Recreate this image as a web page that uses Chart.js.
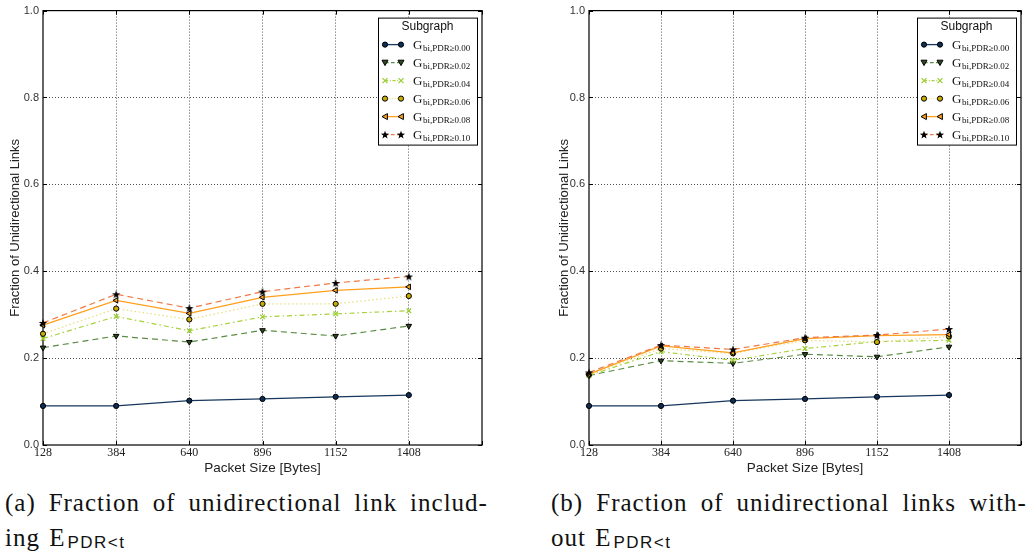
<!DOCTYPE html>
<html><head><meta charset="utf-8">
<script src="https://cdn.jsdelivr.net/npm/chart.js@4.4.1/dist/chart.umd.min.js"></script>
<style>
body{margin:0;width:1027px;height:556px;background:#fff;overflow:hidden;position:relative}
#wa{position:absolute;left:0;top:0;width:500px;height:480px}
#wb{position:absolute;left:520px;top:0;width:507px;height:480px}
.cap{position:absolute;font-family:"Liberation Serif",serif;font-size:25px;line-height:35px;color:#111;letter-spacing:1px}
.l1{display:flex;justify-content:space-between;white-space:nowrap}
.l2{white-space:nowrap;word-spacing:2px}
.sub{font-family:"Liberation Sans",sans-serif;font-size:17px;letter-spacing:1.5px;position:relative;top:2px;margin-left:2px}
</style>
</head><body>
<div id="wa"><canvas id="ca" width="500" height="480"></canvas></div>
<div id="wb"><canvas id="cb" width="507" height="480"></canvas></div>
<div class="cap" style="left:5px;top:485px;width:483px">
  <div class="l1"><span>(a)</span><span>Fraction</span><span>of</span><span>unidirectional</span><span>link</span><span>includ-</span></div>
  <div class="l2">ing E<span class="sub">PDR&lt;t</span></div>
</div>
<div class="cap" style="left:551px;top:485px;width:476px">
  <div class="l1"><span>(b)</span><span>Fraction</span><span>of</span><span>unidirectional</span><span>links</span><span>with-</span></div>
  <div class="l2">out E<span class="sub">PDR&lt;t</span></div>
</div>
<script>
// ---------- data ----------
const packetSizes = [128, 384, 640, 896, 1152, 1408];
const xTickValues = [128, 384, 640, 896, 1152, 1408, 1664];
const yTickValues = [0, 0.2, 0.4, 0.6, 0.8, 1.0];
const thresholds = ['0.00', '0.02', '0.04', '0.06', '0.08', '0.10'];

// panel (a): including E_PDR<t
const a000 = [0.090, 0.090, 0.102, 0.106, 0.111, 0.115];
const a002 = [0.224, 0.251, 0.237, 0.264, 0.251, 0.274];
const a004 = [0.245, 0.296, 0.263, 0.295, 0.302, 0.309];
const a006 = [0.256, 0.314, 0.289, 0.325, 0.325, 0.343];
const a008 = [0.276, 0.333, 0.303, 0.340, 0.356, 0.364];
const a010 = [0.281, 0.347, 0.315, 0.353, 0.373, 0.388];

// panel (b): without E_PDR<t
const b000 = [0.090, 0.090, 0.102, 0.106, 0.111, 0.115];
const b002 = [0.160, 0.194, 0.188, 0.209, 0.203, 0.226];
const b004 = [0.160, 0.215, 0.195, 0.222, 0.238, 0.241];
const b006 = [0.162, 0.222, 0.211, 0.241, 0.237, 0.250];
const b008 = [0.163, 0.228, 0.212, 0.245, 0.252, 0.254];
const b010 = [0.167, 0.230, 0.220, 0.247, 0.253, 0.267];

// ---------- styles ----------
const seriesStyle = [
  {line:'#17375e', dash:[],          marker:'circle', fill:'#0c2d55', stroke:'#000', width:1.3},
  {line:'#5b8c45', dash:[6,4],       marker:'tdown',  fill:'#2f4a1f', stroke:'#000', width:1.2},
  {line:'#a6d13a', dash:[5,3,1.5,3], marker:'x',      fill:'#9acd32', stroke:'#9acd32', width:1.2},
  {line:'#e8e08a', dash:[1.5,2.5],   marker:'circle', fill:'#c9ab00', stroke:'#000', width:1.3},
  {line:'#ff9f1c', dash:[],          marker:'tleft',  fill:'#f7a21b', stroke:'#000', width:1.3},
  {line:'#f07844', dash:[6,4],       marker:'star',   fill:'#000',    stroke:'#000', width:1.2}
];

function starPath(ctx, cx, cy, R, r) {
  ctx.beginPath();
  for (let i = 0; i < 10; i++) {
    const rad = i % 2 === 0 ? R : r;
    const a = -Math.PI / 2 + i * Math.PI / 5;
    const px = cx + rad * Math.cos(a), py = cy + rad * Math.sin(a);
    if (i === 0) ctx.moveTo(px, py); else ctx.lineTo(px, py);
  }
  ctx.closePath();
}
const starCanvas = document.createElement('canvas');
starCanvas.width = 10; starCanvas.height = 10;
(function(){ const c = starCanvas.getContext('2d'); c.fillStyle = '#000'; starPath(c, 5, 5.4, 4.4, 1.8); c.fill(); })();

function pointOpts(s) {
  switch (s.marker) {
    case 'circle': return {pointStyle:'circle', rotation:0, radius:2.6};
    case 'tdown': return {pointStyle:'triangle', rotation:180, radius:3.2};
    case 'tleft': return {pointStyle:'triangle', rotation:-90, radius:3.2};
    case 'x': return {pointStyle:'crossRot', rotation:0, radius:3.2};
    case 'star': return {pointStyle:starCanvas, rotation:0, radius:5};
  }
}

function drawMarker(ctx, s, x, y) {
  ctx.save();
  ctx.setLineDash([]);
  ctx.fillStyle = s.fill; ctx.strokeStyle = s.stroke; ctx.lineWidth = 1;
  const r = 3;
  if (s.marker === 'circle') { ctx.beginPath(); ctx.arc(x, y, 2.6, 0, Math.PI*2); ctx.fill(); ctx.stroke(); }
  else if (s.marker === 'tdown') { ctx.beginPath(); ctx.moveTo(x-r, y-r*0.8); ctx.lineTo(x+r, y-r*0.8); ctx.lineTo(x, y+r); ctx.closePath(); ctx.fill(); ctx.stroke(); }
  else if (s.marker === 'tleft') { ctx.beginPath(); ctx.moveTo(x+r*0.8, y-r); ctx.lineTo(x+r*0.8, y+r); ctx.lineTo(x-r, y); ctx.closePath(); ctx.fill(); ctx.stroke(); }
  else if (s.marker === 'x') { ctx.lineWidth = 1.2; ctx.beginPath(); ctx.moveTo(x-2.5,y-2.5); ctx.lineTo(x+2.5,y+2.5); ctx.moveTo(x+2.5,y-2.5); ctx.lineTo(x-2.5,y+2.5); ctx.stroke(); }
  else if (s.marker === 'star') { starPath(ctx, x, y+0.4, 4.3, 1.8); ctx.fillStyle = '#000'; ctx.fill(); }
  ctx.restore();
}

const framePlugin = {
  id: 'frame',
  beforeDatasetsDraw(chart) {
    const {ctx, chartArea: a} = chart;
    ctx.save();
    ctx.strokeStyle = '#000'; ctx.lineWidth = 1.2; ctx.setLineDash([]);
    ctx.strokeRect(a.left, a.top, a.right - a.left, a.bottom - a.top);
    ctx.lineWidth = 1;
    const ys = chart.scales.y, xs = chart.scales.x;
    yTickValues.forEach(v => {
      const py = Math.round(ys.getPixelForValue(v)) + 0.5;
      ctx.beginPath(); ctx.moveTo(a.left, py); ctx.lineTo(a.left + 4, py);
      ctx.moveTo(a.right, py); ctx.lineTo(a.right - 4, py); ctx.stroke();
    });
    xTickValues.forEach(v => {
      const px = Math.round(xs.getPixelForValue(v)) + 0.5;
      ctx.beginPath(); ctx.moveTo(px, a.bottom); ctx.lineTo(px, a.bottom - 4);
      ctx.moveTo(px, a.top); ctx.lineTo(px, a.top + 4); ctx.stroke();
    });
    ctx.restore();
  }
};

const legendPlugin = {
  id: 'subLegend',
  afterDraw(chart) {
    const {ctx, chartArea: a} = chart;
    const bx = a.right - 104, by = a.top + 7, bw = 99, bh = 127;
    ctx.save();
    ctx.fillStyle = '#fff'; ctx.fillRect(bx, by, bw, bh);
    ctx.strokeStyle = '#000'; ctx.lineWidth = 1; ctx.setLineDash([]);
    ctx.strokeRect(bx + 0.5, by + 0.5, bw, bh);
    ctx.fillStyle = '#111';
    ctx.font = '12px "Liberation Sans", Arial, sans-serif';
    ctx.textAlign = 'center'; ctx.textBaseline = 'middle';
    ctx.fillText('Subgraph', bx + bw/2, by + 9);
    seriesStyle.forEach((s, i) => {
      const y = by + 27 + i * 18;
      ctx.strokeStyle = s.line; ctx.lineWidth = 1.3; ctx.setLineDash(s.dash.map(d => d*0.6));
      ctx.beginPath(); ctx.moveTo(bx + 7, y); ctx.lineTo(bx + 23, y); ctx.stroke();
      drawMarker(ctx, s, bx + 7, y);
      drawMarker(ctx, s, bx + 23, y);
      ctx.fillStyle = '#111'; ctx.textAlign = 'left'; ctx.textBaseline = 'alphabetic';
      ctx.font = '13px "Liberation Serif", serif';
      ctx.fillText('G', bx + 35, y + 4);
      const gw = ctx.measureText('G').width;
      ctx.font = '9px "Liberation Serif", serif';
      ctx.fillText('bi,PDR\u2265' + thresholds[i], bx + 35 + gw + 0.5, y + 6);
    });
    ctx.restore();
  }
};

function makeChart(canvasId, seriesData, yAxisWidth, yTitlePad, rightPad) {
  const datasets = seriesData.map((vals, i) => {
    const s = seriesStyle[i], p = pointOpts(s);
    return {
      label: 'G bi,PDR\u2265' + thresholds[i],
      data: packetSizes.map((x, j) => ({x: x, y: vals[j]})),
      borderColor: s.line, borderWidth: s.width, borderDash: s.dash,
      backgroundColor: s.fill, pointBackgroundColor: s.fill, pointBorderColor: s.stroke,
      pointBorderWidth: s.marker === 'x' ? 1.3 : 1,
      pointStyle: p.pointStyle, pointRotation: p.rotation, pointRadius: p.radius, pointHoverRadius: p.radius,
      tension: 0, fill: false, order: 5 - i, clip: false
    };
  });
  return new Chart(document.getElementById(canvasId), {
    type: 'line',
    data: {datasets},
    plugins: [framePlugin, legendPlugin],
    options: {
      responsive: false, animation: false, devicePixelRatio: 1,
      layout: {padding: {top: 6, right: rightPad, bottom: 0, left: 0}},
      plugins: {legend: {display: false}, tooltip: {enabled: false}},
      scales: {
        x: {
          type: 'linear', min: 128, max: 1664,
          afterBuildTicks: sc => { sc.ticks = xTickValues.map(v => ({value: v})); },
          afterFit: sc => { sc.height = 35; },
          ticks: {autoSkip: false, maxRotation: 0, padding: 1, color: '#222',
            font: {family: '"Liberation Serif", serif', size: 12},
            callback: v => v === 1664 ? '' : String(v)},
          grid: {drawTicks: false, lineWidth: 1,
            color: c => (c.tick && (c.tick.value === 128 || c.tick.value === 1664)) ? 'rgba(0,0,0,0)' : '#555'},
          border: {display: false, dash: [1, 2]},
          title: {display: true, text: 'Packet Size [Bytes]', color: '#222',
            font: {family: '"Liberation Sans", Arial, sans-serif', size: 13.5}, padding: {top: 0, bottom: 4}}
        },
        y: {
          type: 'linear', min: 0, max: 1,
          afterBuildTicks: sc => { sc.ticks = yTickValues.map(v => ({value: v})); },
          afterFit: sc => { sc.width = yAxisWidth; },
          ticks: {padding: 4, color: '#333', font: {family: '"Liberation Sans", Arial, sans-serif', size: 11},
            callback: v => Number(v).toFixed(1)},
          grid: {drawTicks: false, lineWidth: 1,
            color: c => (c.tick && (c.tick.value === 0 || c.tick.value === 1)) ? 'rgba(0,0,0,0)' : '#555'},
          border: {display: false, dash: [1, 2]},
          title: {display: true, text: 'Fraction of Unidirectional Links', color: '#222',
            font: {family: '"Liberation Sans", Arial, sans-serif', size: 13}, padding: {top: yTitlePad, bottom: 0}}
        }
      }
    }
  });
}

makeChart('ca', [a000, a002, a004, a006, a008, a010], 43, 8, 18);
makeChart('cb', [b000, b002, b004, b006, b008, b010], 69, 37, 1);
</script>
</body></html>
